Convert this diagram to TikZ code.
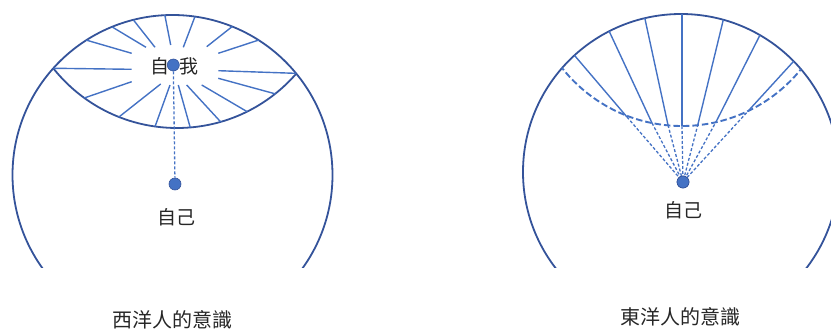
\documentclass[tikz,border=0pt]{standalone}
\usepackage{fontspec}
\newfontfamily\cjk{Noto Sans CJK TC}
\usetikzlibrary{calc}
\definecolor{raycol}{HTML}{4472C4}
\definecolor{rimcol}{HTML}{34539A}
\definecolor{txtcol}{HTML}{262626}
\begin{document}
\begin{tikzpicture}[x=1pt,y=-1pt,
  rimline/.style={draw=rimcol,line width=1.8pt},
  rayline/.style={draw=raycol,line width=1.4pt},
  dashray/.style={draw=raycol,line width=1.3pt,dash pattern=on 3pt off 2pt},
  dasharc/.style={draw=raycol,line width=1.9pt,dash pattern=on 6.5pt off 3pt},
  dotnode/.style={circle,fill=raycol,draw=rimcol,line width=0.6pt,inner sep=0pt,minimum size=12pt},
  lbl/.style={font=\cjk\fontsize{19}{20}\selectfont,text=txtcol,inner sep=0pt},
  captext/.style={font=\cjk\fontsize{20}{22}\selectfont,text=txtcol,inner sep=0pt}]
\useasboundingbox (0,0) rectangle (831,331);

% ---------------- left figure ----------------
\coordinate (WC) at (172.5,175);
\coordinate (LC) at (177,-30);
\begin{scope}
  \clip (0,0) rectangle (831,268);
  \draw[rimline] (WC) circle (160pt);
\end{scope}
\begin{scope}
  \clip (WC) circle (160pt);
  \draw[rimline] (LC) circle (158pt);
  \clip (LC) circle (158pt);
  \foreach \ax/\ay/\bx/\by in {
    131.7/69.3/55/68.3, 131.7/53.3/88.3/40.7, 146/47.3/112.7/27.3,
    155/47.3/134/20.7, 170.7/45/165/16, 183.3/47.3/194.3/18.3,
    206.7/46.7/230/28.3, 218.3/53.3/256.7/40.7, 218.3/70.7/295/73.3,
    218.3/78.3/271/92.7, 201.7/85/244.3/110, 186.7/85/218.3/119.3,
    178.3/85/190/126.7, 170/85/155/126.7, 160.7/84/119.3/116.7,
    131.7/81.7/83.3/98.3}
    \draw[rayline] (\ax,\ay) -- ($(\ax,\ay)!1.15!(\bx,\by)$);
\end{scope}
\node[lbl] (ziwo) at (174.5,66) {自\hspace{10pt}我};
\node[dotnode] (dw) at (173.3,65) {};
\node[dotnode] (dz) at (175,184) {};
\draw[dashray] (dw) -- (dz);
\node[lbl] (zijiL) at (176,217.5) {自己};
\node[captext] (capW) at (172,319.5) {西洋人的意識};

% ---------------- right figure ----------------
\coordinate (EC) at (681,172);
\coordinate (AC) at (682,-27);
\begin{scope}
  \clip (0,0) rectangle (831,268);
  \draw[rimline] (EC) circle (158pt);
\end{scope}
\node[dotnode] (de) at (683,182) {};
\begin{scope}
  \clip (EC) circle (158pt);
  \draw[dasharc] (AC) circle (153pt);
  \foreach \ax/\ay/\bx/\by [count=\i] in {
    627/117/575/56, 652/123/610/33, 668/125/645/19, 682/126/682/15,
    698/124/723/21, 717/120/759/37, 750/109/793/62} {
    \coordinate (p\i) at (\ax,\ay);
    \draw[rayline] (p\i) -- ($(\ax,\ay)!1.1!(\bx,\by)$);
    \draw[dashray] (p\i) -- (de);
  }
\end{scope}
\node[dotnode] at (de) {};
\node[lbl] (zijiR) at (683,210) {自己};
\node[captext] (capE) at (680,316.5) {東洋人的意識};
\end{tikzpicture}
\end{document}
